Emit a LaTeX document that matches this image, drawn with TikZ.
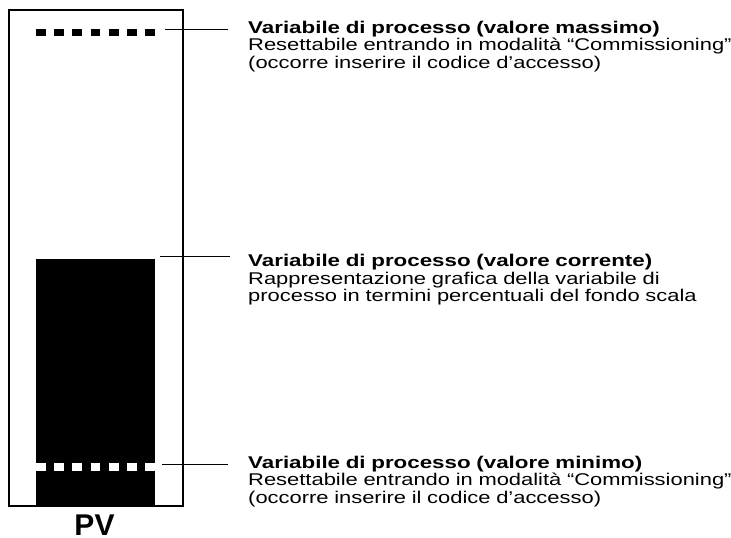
\documentclass[tikz,border=0pt]{standalone}
\usepackage{fontspec}
\setmainfont{Liberation Sans}
\newfontfamily\widesans[FakeStretch=1.29,BoldFeatures={FakeStretch=1.315}]{Liberation Sans}
\begin{document}
\begin{tikzpicture}[x=1pt,y=-1pt,
  frame/.style={draw=black,line width=2pt},
  leader/.style={draw=black,line width=1pt},
  dashrow/.style={line width=7.5pt,dash pattern=on 9.8pt off 8.4pt},
  note/.style={anchor=base west,inner sep=0pt,text width=490pt,align=left,
    font=\widesans\fontsize{17}{17.6}\selectfont},
  pvlabel/.style={inner sep=0pt,font=\fontsize{30}{30}\selectfont\bfseries}]
  \useasboundingbox (0,0) rectangle (731,538);

  % display frame and bar graph
  \draw[frame] (9,10) rectangle (182.7,506.3);
  \fill[black] (36,259) rectangle (155,505.3);
  \draw[dashrow,black] (36,32.5) -- (155,32.5);
  \draw[dashrow,white] (36,467) -- (155,467);

  \node[pvlabel,anchor=base] (pv) at (94.5,535) {PV};

  % annotations
  \node[note] (tmax) at (248,33.3) {\textbf{Variabile di processo (valore massimo)}\\
    Resettabile entrando in modalità “Commissioning”\\
    (occorre inserire il codice d’accesso)};
  \node[note] (tcur) at (248,266.6) {\textbf{Variabile di processo (valore corrente)}\\
    Rappresentazione grafica della variabile di\\
    processo in termini percentuali del fondo scala};
  \node[note] (tmin) at (248,468.3) {\textbf{Variabile di processo (valore minimo)}\\
    Resettabile entrando in modalità “Commissioning”\\
    (occorre inserire il codice d’accesso)};

  % leader lines from the display to the notes
  \coordinate (cmax) at (165,29);
  \coordinate (ccur) at (160,256);
  \coordinate (cmin) at (162,464);
  \draw[leader] (cmax) -- ([xshift=-20pt]cmax -| tmax.west);
  \draw[leader] (ccur) -- ([xshift=-18pt]ccur -| tcur.west);
  \draw[leader] (cmin) -- ([xshift=-20pt]cmin -| tmin.west);
\end{tikzpicture}
\end{document}
